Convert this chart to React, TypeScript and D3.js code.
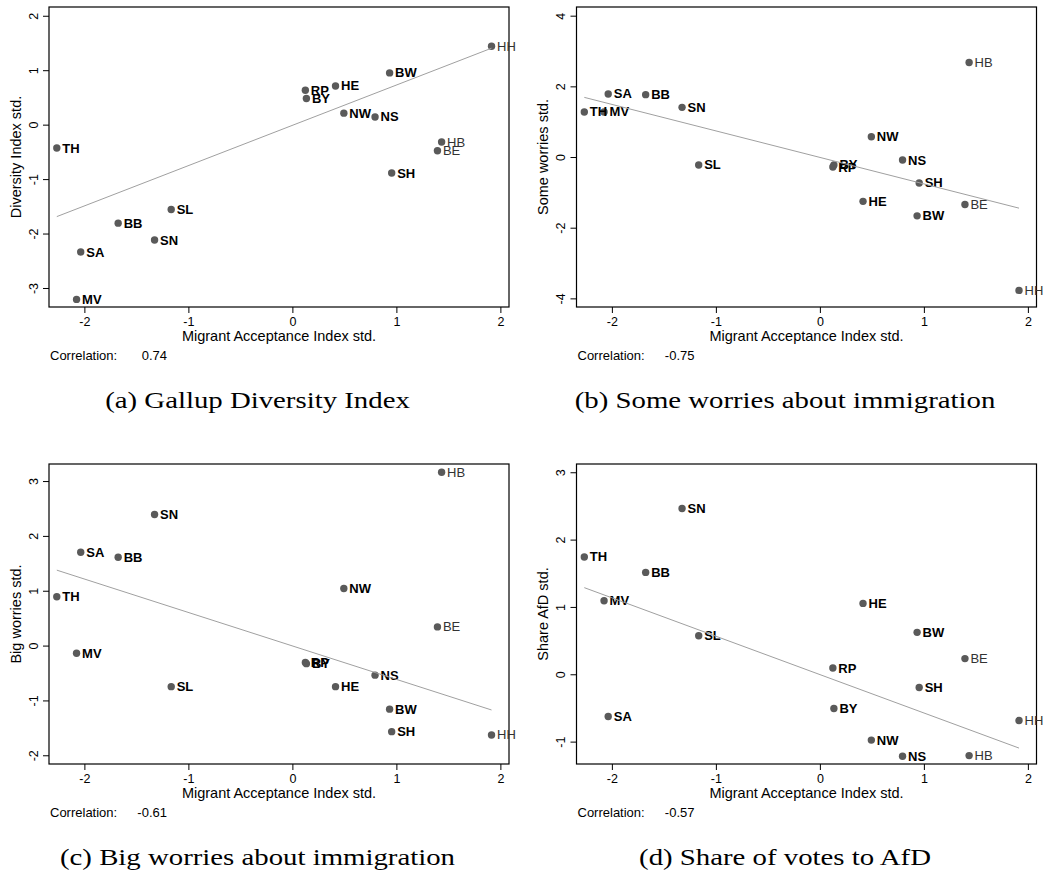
import React from "react";
import * as d3 from "d3";

// German federal states (abbreviations) and their standardised indicators
const states = ["TH", "MV", "SA", "BB", "SN", "SL", "RP", "BY", "HE", "NW", "NS", "BW", "SH", "BE", "HB", "HH"];
const cityStates = ["HH", "HB", "BE"];

const acceptance = [-2.27, -2.08, -2.04, -1.68, -1.33, -1.17, 0.12, 0.13, 0.41, 0.49, 0.79, 0.93, 0.95, 1.39, 1.43, 1.91];
const diversity = [-0.42, -3.2, -2.33, -1.8, -2.11, -1.55, 0.64, 0.49, 0.72, 0.22, 0.15, 0.96, -0.88, -0.47, -0.31, 1.45];
const someWorries = [1.29, 1.29, 1.8, 1.78, 1.42, -0.21, -0.27, -0.21, -1.24, 0.59, -0.07, -1.65, -0.72, -1.33, 2.69, -3.76];
const bigWorries = [0.9, -0.13, 1.71, 1.62, 2.4, -0.74, -0.3, -0.32, -0.74, 1.05, -0.53, -1.15, -1.56, 0.35, 3.17, -1.62];
const afdShare = [1.75, 1.1, -0.62, 1.52, 2.47, 0.58, 0.1, -0.5, 1.06, -0.97, -1.21, 0.63, -0.19, 0.24, -1.2, -0.68];

const xTicks = [-2, -1, 0, 1, 2];
const xDomain: [number, number] = [-2.345, 2.078];
const xTitle = "Migrant Acceptance Index std.";

const yTitles = ["Diversity Index std.", "Some worries std.", "Big worries std.", "Share AfD std."];
const yTicksList = [
  [-3, -2, -1, 0, 1, 2],
  [-4, -2, 0, 2, 4],
  [-2, -1, 0, 1, 2, 3],
  [-1, 0, 1, 2, 3],
];
const yDomains: [number, number][] = [
  [-3.34, 2.17],
  [-4.23, 4.26],
  [-2.15, 3.32],
  [-1.325, 3.13],
];
// correlation of the standardised variables; also the slope of the fitted line
const correlations = [0.74, -0.75, -0.61, -0.57];
const captions = [
  "(a) Gallup Diversity Index",
  "(b) Some worries about immigration",
  "(c) Big worries about immigration",
  "(d) Share of votes to AfD",
];
const seriesList = [diversity, someWorries, bigWorries, afdShare];

const origins: [number, number][] = [
  [0, 0],
  [527.5, 0],
  [0, 457],
  [527.5, 457],
];

const SANS = "'Liberation Sans', Arial, sans-serif";
const SERIF = "'Liberation Serif', 'Times New Roman', serif";

// frame of the plot region inside each panel
const F = { left: 49, right: 509, top: 7, bottom: 307 };

function Panel({ idx }: { idx: number }) {
  const [ox, oy] = origins[idx];
  const ys = seriesList[idx];
  const r = correlations[idx];
  const x = d3.scaleLinear().domain(xDomain).range([F.left, F.right]);
  const y = d3.scaleLinear().domain(yDomains[idx]).range([F.bottom, F.top]);
  const [x0, x1] = d3.extent(acceptance) as [number, number];
  // fitted line of standardised variables: y = r * x
  const line = d3
    .line<number>()
    .x((d) => x(d))
    .y((d) => y(r * d));
  const midY = (F.top + F.bottom) / 2;
  const midX = (F.left + F.right) / 2;

  return (
    <g transform={`translate(${ox},${oy})`}>
      <rect x={F.left} y={F.top} width={F.right - F.left} height={F.bottom - F.top} fill="#fff" stroke="#000" strokeWidth={1.2} />
      {/* x axis */}
      {xTicks.map((t) => (
        <g key={`xt${t}`}>
          <line x1={x(t)} x2={x(t)} y1={F.bottom} y2={F.bottom + 6} stroke="#000" strokeWidth={1} />
          <text x={x(t)} y={325.5} textAnchor="middle" fontFamily={SANS} fontSize={12.5} fill="#000">
            {t}
          </text>
        </g>
      ))}
      <text x={midX} y={341} textAnchor="middle" fontFamily={SANS} fontSize={14.5} fill="#000">
        {xTitle}
      </text>
      {/* y axis */}
      {yTicksList[idx].map((t) => (
        <g key={`yt${t}`}>
          <line x1={F.left - 6} x2={F.left} y1={y(t)} y2={y(t)} stroke="#000" strokeWidth={1} />
          <text
            transform={`translate(37.5,${y(t)}) rotate(-90)`}
            textAnchor="middle"
            fontFamily={SANS}
            fontSize={12.5}
            fill="#000"
          >
            {t}
          </text>
        </g>
      ))}
      <text
        transform={`translate(20.5,${midY}) rotate(-90)`}
        textAnchor="middle"
        fontFamily={SANS}
        fontSize={14.5}
        fill="#000"
      >
        {yTitles[idx]}
      </text>
      {/* points */}
      {states.map((s, i) => (
        <circle key={`p${s}`} cx={x(acceptance[i])} cy={y(ys[i])} r={3.7} fill="#5a5a5a" />
      ))}
      {states.map((s, i) => {
        const city = cityStates.includes(s);
        return (
          <text
            key={`l${s}`}
            x={x(acceptance[i]) + 5.5}
            y={y(ys[i]) + 4.5}
            fontFamily={SANS}
            fontSize={13}
            fontWeight={city ? "normal" : "bold"}
            fill={city ? "#333" : "#000"}
          >
            {s}
          </text>
        );
      })}
      {/* linear fit */}
      <path d={line([x0, x1]) as string} fill="none" stroke="#a0a0a0" strokeWidth={1} />
      {/* correlation note */}
      <text x={50} y={360} fontFamily={SANS} fontSize={13} fill="#000">
        Correlation:
      </text>
      <text x={167} y={360} textAnchor="end" fontFamily={SANS} fontSize={13} fill="#000">
        {r.toFixed(2)}
      </text>
      {/* caption */}
      <text
        transform={`translate(257.5,408) scale(1.2,1)`}
        textAnchor="middle"
        fontFamily={SERIF}
        fontSize={24}
        fill="#000"
      >
        {captions[idx]}
      </text>
    </g>
  );
}

export default function App() {
  return (
    <svg
      width={1044}
      height={876}
      style={{ position: "absolute", left: 0, top: 0, background: "#fff" }}
    >
      <rect width={1044} height={876} fill="#fff" />
      {[0, 1, 2, 3].map((i) => (
        <Panel key={i} idx={i} />
      ))}
    </svg>
  );
}
